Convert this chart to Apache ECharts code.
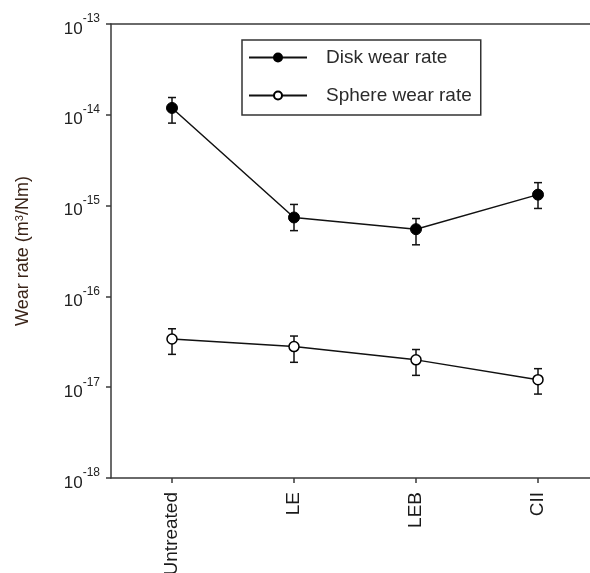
<!DOCTYPE html>
<html>
<head>
<meta charset="utf-8">
<script src="https://cdn.jsdelivr.net/npm/echarts@6/dist/echarts.min.js"></script>
<style>
html,body{margin:0;padding:0;background:#fff;}
#chart{width:590px;height:573px;}
</style>
</head>
<body>
<div id="chart"></div>
<script>
const categories = ['Untreated', 'LE', 'LEB', 'CII'];
const diskRate = [1.19e-14, 7.4e-16, 5.5e-16, 1.32e-15];
const diskHigh = [1.55e-14, 1.03e-15, 7.2e-16, 1.79e-15];
const diskLow = [8.1e-15, 5.3e-16, 3.7e-16, 9.3e-16];
const sphereRate = [3.4e-17, 2.8e-17, 2.0e-17, 1.21e-17];
const sphereHigh = [4.4e-17, 3.66e-17, 2.6e-17, 1.6e-17];
const sphereLow = [2.3e-17, 1.88e-17, 1.35e-17, 8.4e-18];

const FONT = 'Liberation Sans, Arial, sans-serif';
const AX = '#3a3a3a';

function errData(lo, hi) {
  return categories.map((c, i) => [i, lo[i], hi[i]]);
}
function renderErr(params, api) {
  const x = api.value(0);
  const pLo = api.coord([x, api.value(1)]);
  const pHi = api.coord([x, api.value(2)]);
  const w = 4;
  const style = { stroke: '#111', lineWidth: 1.5 };
  return {
    type: 'group',
    children: [
      { type: 'line', shape: { x1: pLo[0], y1: pLo[1], x2: pHi[0], y2: pHi[1] }, style: style },
      { type: 'line', shape: { x1: pHi[0] - w, y1: pHi[1], x2: pHi[0] + w, y2: pHi[1] }, style: style },
      { type: 'line', shape: { x1: pLo[0] - w, y1: pLo[1], x2: pLo[0] + w, y2: pLo[1] }, style: style }
    ]
  };
}

const chart = echarts.init(document.getElementById('chart'), null, { renderer: 'canvas' });
chart.setOption({
  backgroundColor: '#fff',
  animation: false,
  textStyle: { fontFamily: FONT },
  grid: { left: 111, top: 24, right: -9, bottom: 95, containLabel: false, outerBoundsMode: 'none' },
  legend: {
    data: ['Disk wear rate', 'Sphere wear rate'],
    orient: 'vertical',
    left: 242,
    top: 40,
    itemWidth: 58,
    itemHeight: 10,
    itemGap: 19,
    padding: [8, 9, 10, 6],
    borderColor: '#333',
    borderWidth: 1.5,
    textStyle: { fontSize: 19, color: '#2a2a2a', fontFamily: FONT, padding: [0, 0, 0, 14] }
  },
  xAxis: [
    {
      type: 'category',
      data: categories,
      position: 'bottom',
      boundaryGap: true,
      axisLine: { show: true, lineStyle: { color: AX, width: 1.5 } },
      axisTick: { show: true, alignWithLabel: true, length: 5, lineStyle: { color: AX, width: 1.5 } },
      axisLabel: { rotate: 90, fontSize: 19, margin: 14, color: '#1a1a1a', fontFamily: FONT },
      splitLine: { show: false }
    },
    {
      type: 'category',
      data: categories,
      position: 'top',
      axisLine: { show: true, lineStyle: { color: AX, width: 1.5 } },
      axisTick: { show: false },
      axisLabel: { show: false },
      splitLine: { show: false }
    }
  ],
  yAxis: {
    type: 'log',
    logBase: 10,
    min: 1e-18,
    max: 1e-13,
    name: 'Wear rate (m{s|3}/Nm)',
    nameLocation: 'middle',
    nameGap: 78,
    nameTextStyle: {
      fontSize: 18, color: '#3a2418', fontFamily: FONT,
      rich: { s: { fontSize: 11, color: '#3a2418', padding: [0, 0, 8, 0] } }
    },
    axisLine: { show: true, lineStyle: { color: AX, width: 1.5 } },
    axisTick: { show: true, length: 5, lineStyle: { color: AX, width: 1.5 } },
    minorTick: { show: false },
    splitLine: { show: false },
    axisLabel: {
      margin: 11,
      color: '#222',
      formatter: function (v) {
        const e = Math.round(Math.log10(v));
        return '{b|10}{s|' + e + '}';
      },
      rich: {
        b: { fontSize: 17, fontFamily: FONT, color: '#222', padding: [10, 0, 0, 0] },
        s: { fontSize: 12, fontFamily: FONT, color: '#222', padding: [0, 0, 10, 0] }
      }
    }
  },
  series: [
    {
      type: 'custom', name: 'diskErr', renderItem: renderErr, data: errData(diskLow, diskHigh),
      encode: { x: 0, y: [1, 2] }, z: 1, silent: true
    },
    {
      type: 'custom', name: 'sphereErr', renderItem: renderErr, data: errData(sphereLow, sphereHigh),
      encode: { x: 0, y: [1, 2] }, z: 1, silent: true
    },
    {
      type: 'line', name: 'Disk wear rate', data: diskRate, z: 3,
      symbol: 'circle', symbolSize: 11, showAllSymbol: true,
      itemStyle: { color: '#000', borderColor: '#000', borderWidth: 1 },
      lineStyle: { color: '#111', width: 1.5 }
    },
    {
      type: 'line', name: 'Sphere wear rate', data: sphereRate, z: 3,
      symbol: 'circle', symbolSize: 10, showAllSymbol: true,
      itemStyle: { color: '#fff', borderColor: '#000', borderWidth: 1.5 },
      lineStyle: { color: '#111', width: 1.5 }
    }
  ]
});
</script>
</body>
</html>
